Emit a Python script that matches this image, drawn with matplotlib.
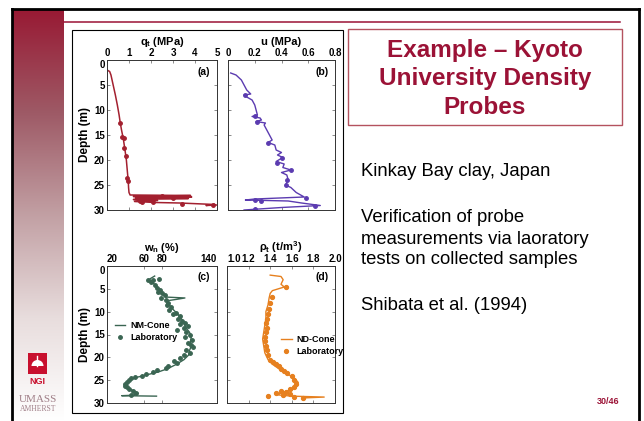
import numpy as np
import matplotlib
matplotlib.use('Agg')
import matplotlib.pyplot as plt
from matplotlib.patches import Rectangle, Wedge
from matplotlib.colors import LinearSegmentedColormap

plt.rcParams['font.family'] = ['Liberation Sans', 'DejaVu Sans']
plt.rcParams['mathtext.fontset'] = 'custom'
plt.rcParams['mathtext.rm'] = 'Liberation Sans:bold'
plt.rcParams['mathtext.it'] = 'Liberation Sans:bold'
plt.rcParams['mathtext.bf'] = 'Liberation Sans:bold'
plt.rcParams['mathtext.default'] = 'rm'

# ---- data ----
# (a) cone tip resistance q_t (MPa) vs depth (m)
qt_depth = [2.0, 2.3, 3.0, 5.0, 7.0, 9.0, 11.0, 12.5, 14.0, 15.3, 16.0, 17.5, 19.0,
            20.0, 22.0, 23.5, 24.5, 25.5, 26.5, 27.0, 27.1, 27.3, 27.4, 27.6, 27.7,
            27.9, 28.1, 28.3, 28.5, 28.6, 28.9, 29.1, 29.0]
qt_value = [0.0, 0.12, 0.18, 0.28, 0.38, 0.47, 0.55, 0.60, 0.66, 0.72, 0.75, 0.80, 0.85,
            0.88, 0.92, 0.95, 0.97, 0.98, 1.00, 1.05, 3.80, 1.20, 3.85, 1.30, 3.70,
            1.20, 2.30, 1.25, 2.20, 3.30, 4.90, 4.50, 5.00]
qt_pts_depth = [12.5, 15.3, 15.6, 17.5, 19.2, 23.5, 24.2, 27.2, 27.5, 28.1, 28.3, 28.4, 28.8, 29.0]
qt_pts_value = [0.60, 0.70, 0.75, 0.78, 0.85, 0.92, 0.95, 2.50, 3.00, 1.50, 2.10, 1.60, 3.40, 4.80]

# (b) pore pressure u (MPa) vs depth (m)
u_depth = [2.6, 3.0, 4.0, 5.0, 6.0, 6.8, 7.0, 7.4, 8.0, 9.0, 10.0, 11.0, 11.3, 11.6,
           12.0, 12.3, 12.6, 13.0, 14.0, 15.0, 16.0, 16.5, 17.0, 18.0, 18.5, 19.0,
           19.5, 20.3, 20.8, 21.5, 22.0, 22.5, 23.0, 24.0, 25.0, 25.5, 26.5, 27.4,
           27.8, 28.0, 28.2, 28.6, 29.1, 29.5, 30.0]
u_value = [0.02, 0.06, 0.10, 0.12, 0.14, 0.17, 0.12, 0.14, 0.18, 0.20, 0.21, 0.22, 0.18,
           0.24, 0.25, 0.21, 0.28, 0.27, 0.29, 0.31, 0.33, 0.30, 0.35, 0.36, 0.40, 0.37,
           0.41, 0.36, 0.42, 0.41, 0.47, 0.40, 0.44, 0.45, 0.43, 0.47, 0.51, 0.57,
           0.20, 0.13, 0.45, 0.55, 0.69, 0.40, 0.12]
u_pts_depth = [7.0, 11.2, 12.4, 16.6, 19.5, 20.5, 22.0, 24.0, 25.0, 27.5, 27.9, 28.1, 29.2, 29.8]
u_pts_value = [0.13, 0.20, 0.22, 0.30, 0.40, 0.37, 0.47, 0.44, 0.43, 0.58, 0.20, 0.25, 0.65, 0.20]

# (c) natural water content w_n (%) vs depth (m)
wn_cone_depth = [2.2, 2.8, 3.2, 4.0, 5.0, 6.0, 6.8, 7.0, 7.3, 7.6, 8.5, 9.5, 10.5, 11.5,
                 12.5, 13.5, 14.5, 15.5, 16.5, 17.5, 18.5, 19.5, 20.5, 21.5, 22.5, 23.2,
                 23.8, 24.4, 25.0, 25.6, 26.2, 26.8, 27.4, 27.9, 28.3, 28.4, 28.5]
wn_cone_value = [72, 67, 66, 72, 76, 80, 84, 105, 96, 86, 88, 92, 97, 101,
                 104, 106, 110, 112, 111, 112, 110, 109, 104, 96, 86, 76,
                 64, 52, 45, 42, 41, 43, 50, 54, 48, 36, 74]
wn_lab_depth = [3.0, 3.0, 2.8, 3.5, 4.2, 4.8, 5.2, 5.6, 6.0, 6.4, 7.0, 7.5, 8.0, 8.6,
                9.0, 9.6, 10.2, 10.6, 11.0, 11.5, 12.0, 12.4, 12.8, 13.2, 13.6, 14.0,
                14.5, 15.0, 15.5, 16.2, 16.8, 17.2, 17.8, 18.4, 19.0, 19.5, 20.2, 20.8,
                21.2, 21.8, 22.4, 22.8, 23.2, 23.6, 24.0, 24.3, 24.6, 25.0, 25.4, 25.8,
                26.2, 26.6, 27.0, 27.4, 27.8, 28.2]
wn_lab_value = [65, 70, 77, 68, 72, 74, 78, 76, 80, 83, 79, 84, 87, 85,
                90, 88, 95, 92, 100, 97, 102, 105, 100, 108, 104, 96,
                106, 110, 105, 113, 108, 112, 114, 106, 110, 104, 100, 93,
                96, 86, 84, 74, 70, 62, 58, 50, 46, 44, 42, 40,
                40, 42, 44, 48, 52, 46]

# (d) total density rho_t (t/m3) vs depth (m)
rho_cone_depth = [2.0, 2.3, 3.0, 4.0, 4.6, 5.4, 6.0, 7.0, 8.5, 10.0, 11.5, 13.0, 14.5,
                  16.0, 17.5, 19.0, 20.5, 21.5, 22.5, 23.5, 24.5, 25.5, 26.5, 27.2,
                  27.8, 28.2, 28.5, 28.7, 28.9]
rho_cone_value = [1.40, 1.50, 1.52, 1.50, 1.53, 1.42, 1.40, 1.39, 1.38, 1.36, 1.36, 1.35,
                  1.34, 1.33, 1.34, 1.35, 1.38, 1.42, 1.48, 1.55, 1.62, 1.66, 1.64, 1.58,
                  1.50, 1.46, 1.60, 1.90, 1.70]
rho_lab_depth = [4.6, 6.8, 8.0, 9.5, 10.5, 11.5, 12.5, 13.5, 14.5, 15.5, 16.5, 17.5, 18.5,
                 19.5, 20.5, 21.0, 21.5, 22.0, 22.5, 23.0, 23.5, 24.0, 25.0, 25.8, 26.5,
                 27.0, 27.3, 27.6, 27.8, 28.0, 28.3, 28.5, 28.6, 28.8]
rho_lab_value = [1.55, 1.42, 1.40, 1.39, 1.38, 1.37, 1.36, 1.37, 1.36, 1.35, 1.35, 1.36,
                 1.37, 1.38, 1.40, 1.43, 1.45, 1.48, 1.50, 1.53, 1.56, 1.60, 1.62, 1.64,
                 1.62, 1.58, 1.50, 1.55, 1.45, 1.58, 1.52, 1.38, 1.62, 1.70]

title_lines = ['Example \u2013 Kyoto', 'University Density', 'Probes']
body_lines = [('Kinkay Bay clay, Japan', 172),
              ('Verification of probe', 217),
              ('measurements via laoratory', 239),
              ('tests on collected samples', 260),
              ('Shibata et al. (1994)', 305)]

W, H = 644, 421
RED = '#9B1236'


def box(x0, y0, x1, y1):
    # pixel box (top-left origin) -> figure fraction
    return [x0 / W, 1 - y1 / H, (x1 - x0) / W, (y1 - y0) / H]


fig = plt.figure(figsize=(W / 100, H / 100), dpi=100)

# slide background
bg = fig.add_axes([0, 0, 1, 1], zorder=0)
cmap = LinearSegmentedColormap.from_list(
    'bar', [(0, '#981A34'), (0.25, '#9E5A66'), (0.5, '#C2A0A4'),
            (0.75, '#E8DDDD'), (1, '#FFFFFF')])
bg.imshow(np.linspace(0, 1, 256).reshape(-1, 1), cmap=cmap,
          extent=[12, 64, 421, 10], aspect='auto')
bg.set_xlim(0, W)
bg.set_ylim(H, 0)
bg.axis('off')
bg.plot([12, 12], [421, 8.5], color='black', lw=2)
bg.plot([12, 639.5], [8.5, 8.5], color='black', lw=2)
bg.plot([639.5, 639.5], [8.5, 421], color='black', lw=2)
bg.plot([64, 620], [22, 22], color=RED, lw=1.1)

# title box
bg.add_patch(Rectangle((348, 29), 274, 96, fill=False, edgecolor='#B4525F', lw=1))
for i, line in enumerate(title_lines):
    bg.text(485, 50 + i * 28.5, line, ha='center', va='center', color=RED,
            fontsize=17.5, fontweight='bold')
for line, y in body_lines:
    bg.text(361, y, line, ha='left', va='center', color='black', fontsize=13.3)
bg.text(608, 402, '30/46', ha='center', va='center', color=RED,
        fontsize=6.5, fontweight='bold')

# logos
bg.add_patch(Rectangle((28, 353), 19, 21, facecolor='#C8102E', edgecolor='none'))
bg.add_patch(Wedge((37.5, 366), 6, 180, 360, facecolor='white', edgecolor='none'))
bg.plot([37.5, 37.5], [356, 366], color='white', lw=1)
bg.text(37.5, 381, 'NGI', ha='center', va='center', color='#C8102E',
        fontsize=6.5, fontweight='bold')
bg.text(38, 400, 'UMASS', ha='center', va='center', color='#A07F88',
        fontsize=8, family='Liberation Serif')
bg.text(38, 409, 'AMHERST', ha='center', va='center', color='#A07F88',
        fontsize=5.5, family='Liberation Serif')

# picture frame around the four panels
bg.add_patch(Rectangle((72, 30), 271, 383, facecolor='white', edgecolor='black', lw=0.8))

ax_a = fig.add_axes(box(107, 60, 217, 210), zorder=2)
ax_b = fig.add_axes(box(228, 60, 335, 210), zorder=2)
ax_c = fig.add_axes(box(107, 266, 217, 403), zorder=2)
ax_d = fig.add_axes(box(227, 266, 335, 403), zorder=2)

tick_font = dict(fontsize=7, fontweight='bold')


def style(ax, xlim, xticks, xlabels, xtitle, tag, show_y):
    ax.set_xlim(*xlim)
    ax.set_ylim(30, 0)
    ax.xaxis.tick_top()
    ax.xaxis.set_label_position('top')
    ax.set_xticks(xticks)
    ax.set_xticklabels(xlabels, **tick_font)
    ax.set_yticks([0, 5, 10, 15, 20, 25, 30])
    if show_y:
        ax.set_yticklabels(['0', '5', '10', '15', '20', '25', '30'], **tick_font)
        ax.set_ylabel('Depth (m)', fontsize=8.5, fontweight='bold', labelpad=2)
    else:
        ax.set_yticklabels([])
    ax.tick_params(axis='both', which='both', direction='in', length=2.5, width=0.6,
                   pad=1.5, top=True, bottom=True, left=True, right=True, color='#777777')
    ax.set_xlabel(xtitle, fontsize=8, fontweight='bold', labelpad=2)
    for s in ax.spines.values():
        s.set_linewidth(0.7)
        s.set_color('#333333')
    ax.text(0.88, 0.92, tag, transform=ax.transAxes, ha='center', va='center',
            fontsize=7.5, fontweight='bold')


c_a = '#A3202F'
c_b = '#5B3BB0'
c_c = '#3A6552'
c_d = '#E6801F'

ax_a.plot(qt_value, qt_depth, color=c_a, lw=1.1)
ax_a.plot(qt_pts_value, qt_pts_depth, 'o', color=c_a, ms=2.5)
style(ax_a, (0, 5), [0, 1, 2, 3, 4, 5], ['0', '1', '2', '3', '4', '5'],
      r'q$_{t}$ (MPa)', '(a)', True)

ax_b.plot(u_value, u_depth, color=c_b, lw=1.0)
ax_b.plot(u_pts_value, u_pts_depth, 'o', color=c_b, ms=2.5)
style(ax_b, (0, 0.8), [0, 0.2, 0.4, 0.6, 0.8], ['0', '0.2', '0.4', '0.6', '0.8'],
      'u (MPa)', '(b)', False)

ax_c.plot(wn_cone_value, wn_cone_depth, color=c_c, lw=1.0, label='NM-Cone')
ax_c.plot(wn_lab_value, wn_lab_depth, 'o', color=c_c, ms=2.5, label='Laboratory')
style(ax_c, (20, 140), [20, 60, 80, 140], ['20', '60', '80', '140'],
      r'w$_{n}$ (%)', '(c)', True)
ax_c.legend(loc='center left', bbox_to_anchor=(0.02, 0.52), frameon=False,
            prop=dict(size=6.5, weight='bold'), handlelength=1.2,
            handletextpad=0.5, borderpad=0.1, labelspacing=0.3)

ax_d.plot(rho_cone_value, rho_cone_depth, color=c_d, lw=1.0, label='ND-Cone')
ax_d.plot(rho_lab_value, rho_lab_depth, 'o', color=c_d, ms=2.8, label='Laboratory')
style(ax_d, (1.0, 2.0), [1.0, 1.2, 1.4, 1.6, 1.8, 2.0],
      ['1.0', '1.2', '1.4', '1.6', '1.8', '2.0'],
      '\u03c1$_{t}$ (t/m$^{3}$)', '(d)', False)
ax_d.legend(loc='center left', bbox_to_anchor=(0.45, 0.42), frameon=False,
            prop=dict(size=6.5, weight='bold'), handlelength=1.2,
            handletextpad=0.5, borderpad=0.1, labelspacing=0.3)

# keep the crowded corner labels apart in the bottom row
ax_c.get_xticklabels()[0].set_horizontalalignment('left')
ax_c.get_xticklabels()[-1].set_horizontalalignment('right')
ax_d.get_xticklabels()[0].set_horizontalalignment('left')
for ax in (ax_a, ax_c):
    ax.get_yticklabels()[0].set_verticalalignment('top')

fig.savefig('out.png', dpi=100)
